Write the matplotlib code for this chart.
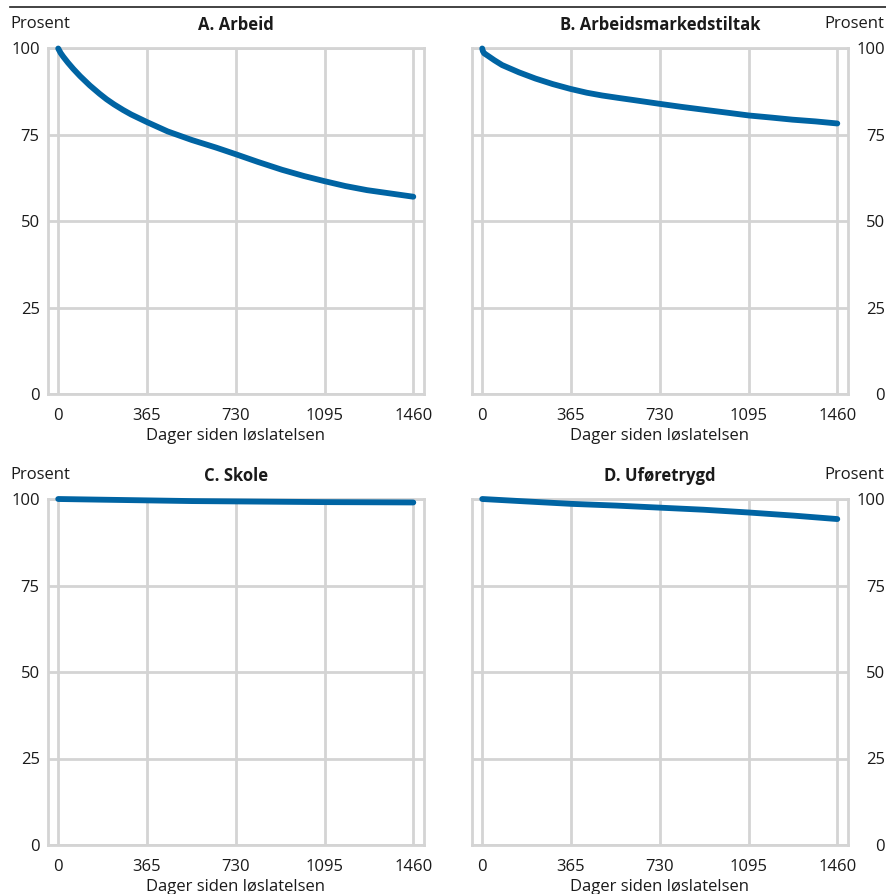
import matplotlib
matplotlib.use("Agg")
import matplotlib.pyplot as plt
from matplotlib.lines import Line2D

plt.rcParams['font.family'] = ['Open Sans', 'DejaVu Sans']

# Data
days_a = [0, 10, 21, 40, 62, 90, 130, 170, 199, 230, 267, 300, 365, 450, 550, 650,
          730, 820, 920, 1010, 1095, 1180, 1270, 1360, 1460]
vals_a = [100, 98.7, 97.6, 95.9, 94.1, 92.0, 89.3, 86.9, 85.3, 83.8, 82.2, 80.9, 78.7,
          76.0, 73.5, 71.3, 69.4, 67.2, 64.9, 63.1, 61.6, 60.2, 59.0, 58.1, 57.1]

days_b = [0, 3, 8, 21, 50, 82, 151, 219, 290, 363, 430, 493, 560, 630, 728, 820, 920,
          1010, 1098, 1190, 1276, 1370, 1460]
vals_b = [100, 99.2, 98.6, 98.0, 96.6, 95.2, 93.1, 91.3, 89.7, 88.3, 87.2, 86.4, 85.7,
          85.0, 84.0, 83.1, 82.2, 81.4, 80.6, 80.0, 79.4, 78.9, 78.3]

days_c = [0, 180, 365, 550, 730, 910, 1095, 1280, 1460]
vals_c = [100, 99.8, 99.6, 99.4, 99.3, 99.2, 99.1, 99.05, 99.0]

days_d = [0, 180, 365, 550, 730, 910, 1095, 1280, 1460]
vals_d = [100, 99.3, 98.6, 98.1, 97.5, 96.9, 96.1, 95.2, 94.2]

titles = ["A. Arbeid", "B. Arbeidsmarkedstiltak", "C. Skole", "D. Uføretrygd"]
x_ticks = [0, 365, 730, 1095, 1460]
y_ticks = [0, 25, 50, 75, 100]
x_label = "Dager siden løslatelsen"
y_unit = "Prosent"

series = [(days_a, vals_a), (days_b, vals_b), (days_c, vals_c), (days_d, vals_d)]

W, H = 886, 894
fig = plt.figure(figsize=(W / 100, H / 100), dpi=100)

line_color = '#0064A3'
grid_color = '#d4d4d4'
text_color = '#1a1a1a'

# axes boxes in pixels: (left, right, top, bottom)
boxes = [(48, 424, 48.5, 394), (472, 848, 48.5, 394),
         (48, 424, 499, 845), (472, 848, 499, 845)]

for i, ((l, r, t, b), (dx, dy)) in enumerate(zip(boxes, series)):
    ax = fig.add_axes([l / W, 1 - b / H, (r - l) / W, (b - t) / H])
    ax.plot(dx, dy, color=line_color, lw=4.2, solid_capstyle='round',
            solid_joinstyle='round', clip_on=False, zorder=3)
    ax.set_xlim(-42, 1504)
    ax.set_ylim(0, 100)
    ax.set_xticks(x_ticks)
    ax.set_xticklabels([str(v) for v in x_ticks])
    ax.set_yticks(y_ticks)
    ax.set_yticklabels([str(v) for v in y_ticks])
    ax.grid(True, color=grid_color, lw=2)
    ax.set_axisbelow(True)
    for s in ax.spines.values():
        s.set_color(grid_color)
        s.set_linewidth(2)
    ax.tick_params(axis='both', length=0, labelsize=12, colors=text_color)
    ax.tick_params(axis='x', pad=10)
    right = (i % 2 == 1)
    if right:
        ax.yaxis.tick_right()
        ax.tick_params(axis='y', pad=(885 - r) * 0.72)
        for lab in ax.get_yticklabels():
            lab.set_horizontalalignment('right')
    else:
        ax.tick_params(axis='y', pad=6)
    ax.set_xlabel(x_label, fontsize=12, color=text_color, labelpad=3)
    ax.set_title(titles[i], fontsize=12, fontweight='bold', color=text_color, pad=13)
    ty = 1 - (t - 24) / H
    if right:
        fig.text(884 / W, ty, y_unit, ha='right', va='center', fontsize=12, color=text_color)
    else:
        fig.text(10 / W, ty, y_unit, ha='left', va='center', fontsize=12, color=text_color)

fig.add_artist(Line2D([10 / W, 1.0], [1 - 6.5 / H, 1 - 6.5 / H], color='#222222', lw=1.2))

fig.savefig("out.png", dpi=100, facecolor='white')
